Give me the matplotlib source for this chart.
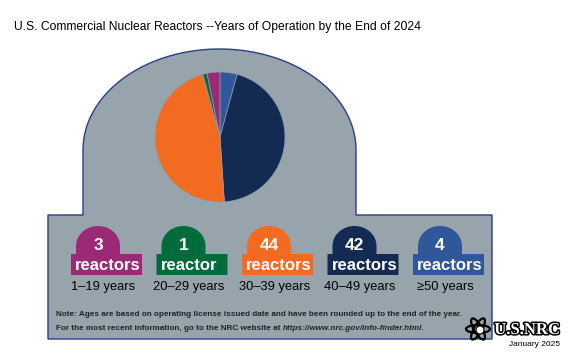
import matplotlib.pyplot as plt
import matplotlib.patches as mpatches
import matplotlib.patheffects as pe
import numpy as np

# data
counts = [3, 1, 44, 42, 4]
count_words = ['reactors', 'reactor', 'reactors', 'reactors', 'reactors']
age_labels = ['1\u201319 years', '20\u201329 years', '30\u201339 years', '40\u201349 years', '\u226550 years']
colors = ['#9b2a76', '#006b3b', '#f36a21', '#132a53', '#2f5799']

title = 'U.S. Commercial Nuclear Reactors --Years of Operation by the End of 2024'
note1 = 'Note: Ages are based on operating license issued date and have been rounded up to the end of the year.'
note2_a = 'For the most recent information, go to the NRC website at '
note2_b = 'https://www.nrc.gov/info-finder.html'

fam = ['Liberation Sans', 'DejaVu Sans']

gray = '#97a4ab'
outline = '#2b3f86'

fig = plt.figure(figsize=(5.8, 3.6), dpi=100)
ax = fig.add_axes([0, 0, 1, 1])

# background shape: arch on top of a wide box
t = np.linspace(np.pi, 0, 80)
cx, a, b, yb = 219.5, 136.5, 101, 150
arc = np.column_stack([cx + a * np.cos(t), yb - b * np.sin(t)])
pts = [(48, 339), (48, 215), (83, 215)] + [tuple(p) for p in arc] + [(356, 215), (492, 215), (492, 339), (48, 339)]
ax.add_patch(mpatches.Polygon(pts, closed=True, facecolor=gray, edgecolor=outline, lw=1.0, zorder=1))

# pie, clockwise from top (y axis is inverted)
ax.pie(counts[::-1], colors=colors[::-1], startangle=-90, counterclock=True,
       center=(220, 137), radius=65, frame=True,
       wedgeprops=dict(edgecolor='#8fa0ab', linewidth=0.5, zorder=2))

ax.set_xlim(0, 580)
ax.set_ylim(360, 0)
ax.set_aspect('equal')
ax.axis('off')

# badges
x0 = 71
step = 85.5
for i in range(len(counts)):
    rl = x0 + i * step
    rr = rl + 71
    dl = rl + 5
    dr = dl + 44
    dc = (dl + dr) / 2
    tt = np.linspace(np.pi, 0, 40)
    dome = [(dc + 22 * np.cos(v), 246 - 20 * np.sin(v)) for v in tt]
    shape = [(rl, 275), (rl, 254), (dl, 254)] + dome + [(dr, 254), (rr, 254), (rr, 275), (rl, 275)]
    ax.add_patch(mpatches.Polygon(shape, closed=True, facecolor=colors[i], edgecolor='none', zorder=3))
    ax.text(dc, 245, str(counts[i]), ha='center', va='center', color='white',
            fontsize=12.5, fontweight='bold', family=fam, zorder=4)
    ax.text(rl + 4, 265, count_words[i], ha='left', va='center', color='white',
            fontsize=12, fontweight='bold', family=fam, zorder=4)
    ax.text((rl + rr) / 2 - 3, 287, age_labels[i], ha='center', va='center', color='black',
            fontsize=9.3, family=fam, zorder=4)

# notes
ax.text(56, 315, note1, ha='left', va='center', fontsize=5.9, fontweight='bold', family=fam, color='#222222')
tn = ax.text(56, 328, note2_a, ha='left', va='center', fontsize=5.9, fontweight='bold', family=fam, color='#222222')
ax.annotate(note2_b + '.', xy=(1, 0.5), xycoords=tn, ha='left', va='center', fontsize=5.9,
            fontweight='bold', style='italic', family=fam, color='#222222')

# title
ax.text(14, 27, title, ha='left', va='center', fontsize=8.7, family=fam, color='black')

# logo
for ang in (0, 60, 120):
    ax.add_patch(mpatches.Ellipse((478, 329), 24, 8, angle=ang, facecolor='none',
                                  edgecolor='black', lw=1.6, zorder=5))
ax.add_patch(mpatches.Circle((480, 330), 4, facecolor='white', edgecolor='black', lw=0.8, zorder=6))
ax.text(560, 330, 'U.S.NRC', ha='right', va='center', fontsize=12, fontweight='bold',
        family='Liberation Serif', color='white', zorder=6,
        path_effects=[pe.withStroke(linewidth=2.2, foreground='black')])
ax.text(560, 344, 'January 2025', ha='right', va='center', fontsize=6, family=fam, color='black')

fig.savefig('out.png', dpi=100)
